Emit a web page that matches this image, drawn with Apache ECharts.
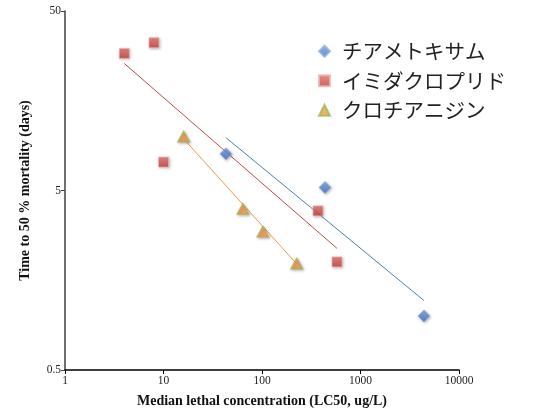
<!DOCTYPE html>
<html><head><meta charset="utf-8">
<script src="https://cdn.jsdelivr.net/npm/echarts@6/dist/echarts.min.js"></script>
<style>html,body{margin:0;padding:0;background:#fff}#c{width:544px;height:413px}</style>
</head><body><div id="c"></div>
<script>
// Data (LC50 ug/L, time to 50% mortality days)
const seriesNames = ['チアメトキサム', 'イミダクロプリド', 'クロチアニジン'];
const thiaX = [43, 436, 4400];
const thiaY = [8.0, 5.2, 1.0];
const imidX = [4, 8, 10, 370, 577];
const imidY = [29, 33.3, 7.2, 3.85, 2.0];
const clothX = [16, 64, 102, 225];
const clothY = [10, 3.95, 2.95, 1.96];
// trend line endpoints
const thiaTrendX = [43, 4400];
const thiaTrendY = [9.85, 1.22];
const imidTrendX = [4, 577];
const imidTrendY = [25.5, 2.38];
const clothTrendX = [16, 225];
const clothTrendY = [9.7, 1.95];
const xTickLabels = ['1', '10', '100', '1000', '10000'];
const yTickLabels = ['0.5', '5', '50'];
const yBase = 0.5;

const ty = v => Math.log10(v / yBase);
const pts = (xs, ys) => xs.map((x, i) => [x, ty(ys[i])]);

const serif = '"Liberation Serif", "DejaVu Serif", serif';
const grad = (a, b) => ({type:'linear', x:0, y:0, x2:0, y2:1, colorStops:[{offset:0,color:a},{offset:1,color:b}]});
const shadow = {shadowBlur:3, shadowColor:'rgba(0,0,0,0.35)', shadowOffsetX:1, shadowOffsetY:1};

const chart = echarts.init(document.getElementById('c'));
chart.setOption({
  animation:false,
  backgroundColor:'#fff',
  grid:{left:65, right:85, top:11, bottom:40},
  xAxis:{type:'log', logBase:10, min:1, max:10000,
    name:'Median lethal concentration (LC50, ug/L)', nameLocation:'middle', nameGap:24,
    nameTextStyle:{fontFamily:serif, fontWeight:'bold', fontSize:14, color:'#111'},
    axisLine:{lineStyle:{color:'#000', width:1.5}},
    axisTick:{show:true, length:4, lineStyle:{color:'#000'}},
    axisLabel:{fontFamily:serif, fontSize:11.5, color:'#222', margin:5,
      formatter:(v)=>xTickLabels[Math.round(Math.log10(v))]},
    splitLine:{show:false}, minorTick:{show:false}},
  yAxis:{type:'value', min:0, max:2, interval:1,
    name:'Time to 50 % mortality (days)', nameLocation:'middle', nameGap:33, nameRotate:90,
    nameTextStyle:{fontFamily:serif, fontWeight:'bold', fontSize:14, color:'#111'},
    axisLine:{show:true, lineStyle:{color:'#404040', width:1.5}},
    axisTick:{show:true, length:4, lineStyle:{color:'#404040'}},
    axisLabel:{fontFamily:serif, fontSize:11.5, color:'#222', margin:4,
      formatter:(v)=>yTickLabels[Math.round(v)]},
    splitLine:{show:false}},
  legend:{orient:'vertical', left:313, top:36, itemGap:9, itemWidth:11, itemHeight:11,
    data:seriesNames,
    textStyle:{fontFamily:'"Noto Sans CJK JP", sans-serif', fontSize:20.5, color:'#222', padding:[0,0,0,7]}},
  series:[
    {name:seriesNames[0], type:'scatter', symbol:'diamond', symbolSize:[12,12], data:pts(thiaX, thiaY), z:5,
      itemStyle:Object.assign({color:grad('#78a2e2','#3a6cbf'), borderColor:'#8fb0dc', borderWidth:0.8}, shadow)},
    {name:seriesNames[1], type:'scatter', symbol:'rect', symbolSize:[10,10], data:pts(imidX, imidY), z:5,
      itemStyle:Object.assign({color:grad('#ee6e69','#c23a35'), borderColor:'#e7b6b4', borderWidth:0.8}, shadow)},
    {name:seriesNames[2], type:'scatter', symbol:'triangle', symbolSize:[12,11], data:pts(clothX, clothY), z:5,
      itemStyle:Object.assign({color:'#f79646', borderColor:'#9bbb59', borderWidth:1}, shadow)},
    {type:'line', data:pts(thiaTrendX, thiaTrendY), symbol:'none', lineStyle:{color:'#4a7ebb', width:1}, z:3, silent:true},
    {type:'line', data:pts(imidTrendX, imidTrendY), symbol:'none', lineStyle:{color:'#be4b48', width:1}, z:3, silent:true},
    {type:'line', data:pts(clothTrendX, clothTrendY), symbol:'none', lineStyle:{color:'#f79646', width:1}, z:3, silent:true}
  ]
});
</script></body></html>
